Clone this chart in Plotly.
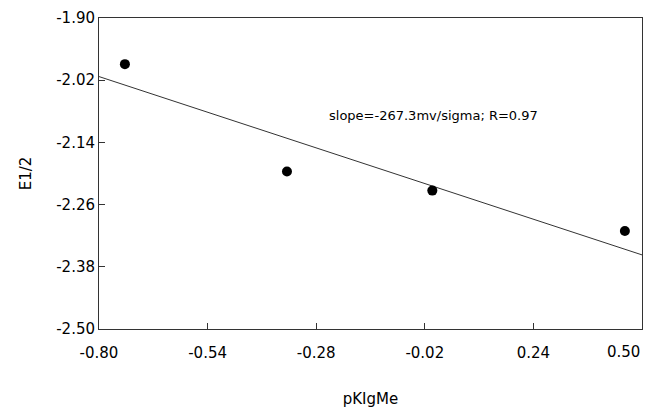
import plotly.graph_objects as go

# Data
pk_x = [-0.738, -0.35, -0.002, 0.459]
e_half = [-1.989, -2.196, -2.233, -2.311]

fit_x = [-0.80, 0.50]
fit_y = [-2.013, -2.357]

x_ticks = [-0.80, -0.54, -0.28, -0.02, 0.24, 0.50]
x_labels = ["-0.80", "-0.54", "-0.28", "-0.02", "0.24", "0.50"]
y_ticks = [-2.50, -2.38, -2.26, -2.14, -2.02, -1.90]
y_labels = ["-2.50", "-2.38", "-2.26", "-2.14", "-2.02", "-1.90"]

FONT = "DejaVu Sans"

fig = go.Figure()
fig.add_trace(go.Scatter(x=fit_x, y=fit_y, mode="lines",
                         line=dict(color="#333333", width=1), showlegend=False))
fig.add_trace(go.Scatter(x=pk_x, y=e_half, mode="markers",
                         marker=dict(color="black", size=10), showlegend=False))

fig.add_annotation(x=0.0, y=-2.088, xref="x", yref="y",
                   text="slope=-267.3mv/sigma; R=0.97", showarrow=False,
                   font=dict(family=FONT, size=13, color="black"))

# last x tick label is drawn shifted left (as in the reference) so it stays inside the page
fig.add_annotation(x=x_ticks[-1], y=0, xref="x", yref="paper",
                   text=x_labels[-1], showarrow=False, xanchor="right", yanchor="top",
                   xshift=0, yshift=-12,
                   font=dict(family=FONT, size=15, color="black"))

fig.update_xaxes(range=[-0.80, 0.50], tickvals=x_ticks,
                 ticktext=x_labels[:-1] + [""],
                 automargin=False, ticklabelstandoff=10,
                 showgrid=False, zeroline=False, showline=True, mirror=True,
                 linecolor="#333333", linewidth=1, ticks="inside", ticklen=6,
                 tickcolor="#333333",
                 tickfont=dict(family=FONT, size=15, color="black"),
                 title=dict(text="pKIgMe", font=dict(family=FONT, size=15, color="black"),
                            standoff=49))
fig.update_yaxes(range=[-2.50, -1.90], tickvals=y_ticks, ticktext=y_labels,
                 automargin=False,
                 showgrid=False, zeroline=False, showline=True, mirror=True,
                 linecolor="#333333", linewidth=1, ticks="inside", ticklen=6,
                 tickcolor="#333333",
                 tickfont=dict(family=FONT, size=15, color="black"),
                 title=dict(text="E1/2", font=dict(family=FONT, size=15, color="black"),
                            standoff=20))

fig.update_layout(width=646, height=408, plot_bgcolor="white", paper_bgcolor="white",
                  margin=dict(l=99, r=4, t=18, b=79))

fig.write_html("out.html", config={"displayModeBar": False},
               post_script="document.body.style.margin='0';document.body.style.overflow='hidden';")
